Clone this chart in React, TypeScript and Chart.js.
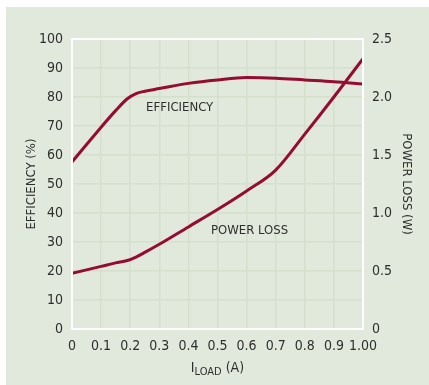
import React, { useEffect, useRef } from "react";
import { Chart, registerables } from "chart.js";

Chart.register(...registerables);

// Load current (A)
const loadCurrent = [0, 0.05, 0.1, 0.15, 0.19, 0.22, 0.25, 0.3, 0.4, 0.5, 0.6, 0.7, 0.8, 0.9, 1.0];
// Efficiency (%)
const efficiency = [57.6, 63.6, 69.6, 75.3, 79.4, 81.2, 82.0, 82.9, 84.7, 85.9, 86.7, 86.5, 85.9, 85.3, 84.5];
// Power loss (W)
const powerLoss = [0.48, 0.51, 0.54, 0.57, 0.59, 0.62, 0.66, 0.73, 0.88, 1.03, 1.19, 1.37, 1.68, 2.0, 2.33];

const xTicks = ["0", "0.1", "0.2", "0.3", "0.4", "0.5", "0.6", "0.7", "0.8", "0.9", "1.00"];
const effTicks = ["0", "10", "20", "30", "40", "50", "60", "70", "80", "90", "100"];
const lossTicks = ["0", "0.5", "1.0", "1.5", "2.0", "2.5"];

const FONT = "'DejaVu Sans Condensed', 'Liberation Sans', sans-serif";
const TEXT = "#2e2e2e";
const PANEL = "#e1e9dc";
const GRID = "#d4e0cb";
const CURVE = "#950b32";

const decorPlugin = {
  id: "decor",
  beforeDraw(chart: any) {
    const { ctx, width, height } = chart;
    ctx.save();
    ctx.fillStyle = "#ffffff";
    ctx.fillRect(0, 0, width, height);
    ctx.fillStyle = PANEL;
    ctx.fillRect(6, 7, width - 6, height - 7);
    ctx.restore();
  },
  afterDatasetsDraw(chart: any) {
    const { ctx, chartArea, scales } = chart;
    const x = scales.x;
    const yl = scales.yEff;
    ctx.save();
    ctx.fillStyle = TEXT;
    ctx.textAlign = "center";
    ctx.textBaseline = "middle";
    ctx.font = `13px ${FONT}`;
    ctx.fillText("EFFICIENCY", x.getPixelForValue(0.37), yl.getPixelForValue(76.2));
    ctx.fillText("POWER LOSS", x.getPixelForValue(0.61), yl.getPixelForValue(34));

    // left axis title
    const midY = (chartArea.top + chartArea.bottom) / 2;
    ctx.save();
    ctx.translate(32, midY);
    ctx.rotate(-Math.PI / 2);
    ctx.fillText("EFFICIENCY (%)", 0, 0);
    ctx.restore();

    // right axis title
    ctx.save();
    ctx.translate(406, midY);
    ctx.rotate(Math.PI / 2);
    ctx.fillText("POWER LOSS (W)", 0, 0);
    ctx.restore();

    // x axis title with subscript
    const base = `14px ${FONT}`;
    const sub = `11px ${FONT}`;
    ctx.textAlign = "left";
    ctx.textBaseline = "alphabetic";
    ctx.font = base;
    const wI = ctx.measureText("I").width;
    const wTail = ctx.measureText(" (A)").width;
    ctx.font = sub;
    const wSub = ctx.measureText("LOAD").width;
    const total = wI + wSub + wTail;
    let cx = (chartArea.left + chartArea.right) / 2 - total / 2;
    const by = 372;
    ctx.font = base;
    ctx.fillText("I", cx, by);
    cx += wI;
    ctx.font = sub;
    ctx.fillText("LOAD", cx, by + 2.5);
    cx += wSub;
    ctx.font = base;
    ctx.fillText(" (A)", cx, by);
    ctx.restore();
  },
  afterDraw(chart: any) {
    const { ctx, chartArea } = chart;
    ctx.save();
    ctx.strokeStyle = "#ffffff";
    ctx.lineWidth = 2;
    ctx.strokeRect(chartArea.left, chartArea.top, chartArea.right - chartArea.left, chartArea.bottom - chartArea.top);
    ctx.restore();
  },
};

export default function App() {
  const ref = useRef<HTMLCanvasElement | null>(null);

  useEffect(() => {
    document.body.style.margin = "0";
    const canvas = ref.current;
    if (!canvas) return;
    const chart = new Chart(canvas, {
      type: "line",
      data: {
        datasets: [
          {
            label: "Efficiency",
            data: loadCurrent.map((x, i) => ({ x, y: efficiency[i] })),
            yAxisID: "yEff",
            borderColor: CURVE,
            borderWidth: 3,
            pointRadius: 0,
            cubicInterpolationMode: "monotone",
          },
          {
            label: "Power loss",
            data: loadCurrent.map((x, i) => ({ x, y: powerLoss[i] })),
            yAxisID: "yLoss",
            borderColor: CURVE,
            borderWidth: 3,
            pointRadius: 0,
            cubicInterpolationMode: "monotone",
          },
        ],
      },
      options: {
        responsive: false,
        animation: false,
        layout: { padding: { top: 39, left: 0, right: 0, bottom: 0 } },
        plugins: { legend: { display: false }, tooltip: { enabled: false } },
        scales: {
          x: {
            type: "linear",
            min: 0,
            max: 1,
            border: { display: false },
            grid: { color: GRID, lineWidth: 1.5, drawTicks: false },
            afterBuildTicks: (s: any) => {
              s.ticks = xTicks.map((_, i) => ({ value: i / 10 }));
            },
            afterFit: (s: any) => {
              s.height = 56;
            },
            ticks: {
              padding: 9,
              color: TEXT,
              font: { family: FONT, size: 14 },
              maxRotation: 0,
              autoSkip: false,
              callback: (_v: any, i: number) => xTicks[i],
            },
          },
          yEff: {
            type: "linear",
            position: "left",
            min: 0,
            max: 100,
            border: { display: false },
            grid: { color: GRID, lineWidth: 1.5, drawTicks: false },
            afterBuildTicks: (s: any) => {
              s.ticks = effTicks.map((t) => ({ value: Number(t) }));
            },
            afterFit: (s: any) => {
              s.width = 72;
            },
            ticks: {
              padding: 9,
              color: TEXT,
              font: { family: FONT, size: 14 },
              autoSkip: false,
              callback: (_v: any, i: number) => effTicks[i],
            },
          },
          yLoss: {
            type: "linear",
            position: "right",
            min: 0,
            max: 2.5,
            border: { display: false },
            grid: { display: false, drawTicks: false },
            afterBuildTicks: (s: any) => {
              s.ticks = lossTicks.map((t) => ({ value: Number(t) }));
            },
            afterFit: (s: any) => {
              s.width = 66;
            },
            ticks: {
              padding: 9,
              color: TEXT,
              font: { family: FONT, size: 14 },
              autoSkip: false,
              callback: (_v: any, i: number) => lossTicks[i],
            },
          },
        },
      },
      plugins: [decorPlugin],
    } as any);
    return () => chart.destroy();
  }, []);

  return (
    <div style={{ position: "relative", width: 429, height: 385 }}>
      <canvas ref={ref} width={429} height={385} style={{ display: "block" }} />
    </div>
  );
}
